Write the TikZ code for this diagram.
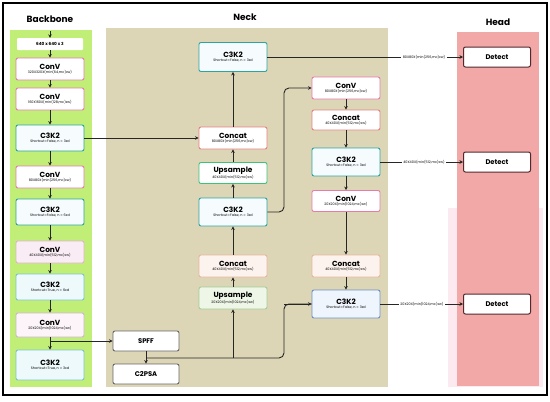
\documentclass[tikz,border=0pt]{standalone}
\usepackage{fontspec}
\setmainfont{Poppins}
\usetikzlibrary{arrows.meta}
\definecolor{bbgreen}{RGB}{192,238,118}
\definecolor{necktan}{RGB}{220,213,182}
\definecolor{headpink}{RGB}{241,168,166}
\definecolor{headlight}{RGB}{253,234,240}
\definecolor{convpink}{RGB}{232,124,168}
\definecolor{teal}{RGB}{42,165,160}
\definecolor{concatred}{RGB}{232,128,128}
\definecolor{upgreen}{RGB}{62,194,122}
\definecolor{peachfill}{RGB}{253,243,238}
\definecolor{peachdraw}{RGB}{232,182,156}
\definecolor{lgfill}{RGB}{238,246,232}
\definecolor{lgdraw}{RGB}{165,205,150}
\definecolor{lpfill}{RGB}{250,236,244}
\definecolor{lpdraw}{RGB}{226,180,206}
\definecolor{lbfill}{RGB}{238,249,251}
\definecolor{lbdraw}{RGB}{120,196,212}
\definecolor{bluedraw}{RGB}{108,143,200}
\definecolor{bluefill}{RGB}{238,245,252}
\definecolor{detdraw}{RGB}{80,40,46}
\newcommand{\bt}[2]{{\fontsize{7.4}{8}\selectfont\bfseries #1}\\[0.6pt]{\fontsize{3.4}{4}\selectfont #2}}
\tikzset{
  blk/.style={draw, rounded corners=2pt, line width=0.9pt, fill=white, minimum width=68pt, minimum height=22pt, inner sep=0pt, align=center, font=\fontsize{3.4}{4}\selectfont},
  conv/.style={blk, draw=convpink},
  c3/.style={blk, draw=teal, fill=lbfill!50},
  cat/.style={blk, draw=concatred},
  ups/.style={blk, draw=upgreen},
  plain/.style={draw=black!60, rounded corners=2pt, line width=0.9pt, fill=white, minimum width=66pt, minimum height=20pt, inner sep=0pt, font=\fontsize{6.8}{7}\selectfont\bfseries},
  det/.style={draw=detdraw, rounded corners=2pt, line width=1pt, fill=white, minimum width=67pt, minimum height=20pt, inner sep=0pt, font=\fontsize{6.8}{7}\selectfont\bfseries},
  arr/.style={-{Stealth[length=3.5pt,width=3.5pt]}, line width=0.9pt, draw=black!85},
  ln/.style={line width=0.9pt, draw=black!85},
  ttl/.style={font=\fontsize{9}{10}\selectfont\bfseries},
  lab/.style={fill=white, inner sep=1.5pt, font=\fontsize{3.4}{4}\selectfont}
}
\begin{document}
\begin{tikzpicture}[x=1pt,y=-1pt]
\useasboundingbox (0,0) rectangle (550,402);
\fill[white] (0,0) rectangle (550,402);
% panels
\fill[bbgreen] (10,30) rectangle (92,387);
\fill[necktan] (106,28) rectangle (388,387);
\fill[headlight] (448,208) rectangle (543,387);
\fill[headpink] (457,32) rectangle (539,386);
\draw[line width=1.5pt] (3,3) rectangle (547,395);
% titles
\node[ttl] (tb) at (50,19) {Backbone};
\node[ttl] (tn) at (245,17) {Neck};
\node[ttl] (th) at (498,22) {Head};
% backbone
\node[fill=white, rounded corners=1pt, minimum width=66pt, minimum height=12pt, inner sep=0pt, font=\fontsize{4.2}{5}\selectfont\bfseries] (in) at (50,44) {640 x 640 x 3};
\node[conv] (b1) at (50,69) {\bt{ConV}{320X320X(min(64,mc)xw)}};
\node[conv] (b2) at (50,99) {\bt{ConV}{160X160X(min(128,mc)xw)}};
\node[c3, minimum height=26pt] (b3) at (50,138) {\bt{C3K2}{Shortcut=False, n = 3xd}};
\node[conv] (b4) at (50,177) {\bt{ConV}{80X80X(min(256,mc)xw)}};
\node[c3, minimum height=26pt] (b5) at (50,212) {\bt{C3K2}{Shortcut=False, n = 6xd}};
\node[conv, draw=lpdraw, fill=lpfill] (b6) at (50,252) {\bt{ConV}{40X40X(min(512,mc)xw)}};
\node[c3, draw=lbdraw, fill=lbfill, minimum height=26pt] (b7) at (50,287) {\bt{C3K2}{Shortcut=True, n = 6xd}};
\node[conv, draw=lpdraw!80!lbdraw, fill=lpfill!60, minimum height=24pt] (b8) at (50,325) {\bt{ConV}{20X20X(min(1024,mc)xw)}};
\node[c3, draw=lbdraw, fill=lbfill, minimum height=30pt] (b9) at (50,365) {\bt{C3K2}{Shortcut=True, n = 3xd}};
\coordinate (top) at (50,31);
\draw[arr] (top) -- (in);
\draw[arr] (in) -- (b1);
\draw[arr] (b1) -- (b2);
\draw[arr] (b2) -- (b3);
\draw[arr] (b3) -- (b4);
\draw[arr] (b4) -- (b5);
\draw[arr] (b5) -- (b6);
\draw[arr] (b6) -- (b7);
\draw[arr] (b7) -- (b8);
\draw[arr] (b8) -- (b9);
% SPFF / C2PSA
\node[plain] (sp) at (146,341) {SPFF};
\node[plain] (c2) at (146,374) {C2PSA};
\coordinate (j1) at (50,341);
\draw[arr] (j1) -- (sp);
\draw[arr] (sp) -- (c2);
% neck col 1
\node[c3, minimum height=29pt] (n1) at (233,57) {\bt{C3K2}{Shortcut=False, n = 3xd}};
\node[cat] (n2) at (233,138) {\bt{Concat}{80X80X(min(256,mc)xw)}};
\node[ups, minimum height=21pt] (n3) at (233,173) {\bt{Upsample}{40X40X(min(512,mc)xw)}};
\node[c3, minimum height=28pt] (n4) at (233,212) {\bt{C3K2}{Shortcut=False, n = 3xd}};
\node[cat, draw=peachdraw, fill=peachfill] (n5) at (233,266) {\bt{Concat}{40X40X(min(512,mc)xw)}};
\node[ups, draw=lgdraw, fill=lgfill] (n6) at (233,298) {\bt{Upsample}{20X20X(min(1024,mc)xw)}};
% neck col 2
\node[conv] (m1) at (346,88) {\bt{ConV}{80X80X(min(256,mc)xw)}};
\node[cat, minimum height=20pt] (m2) at (346,120) {\bt{Concat}{40X40X(min(512,mc)xw)}};
\node[c3, minimum height=28pt] (m3) at (346,162) {\bt{C3K2}{Shortcut=False, n = 3xd}};
\node[conv, minimum height=21pt] (m4) at (346,201) {\bt{ConV}{20X20X(min(1024,mc)xw)}};
\node[cat, draw=peachdraw, fill=peachfill] (m5) at (346,266) {\bt{Concat}{40X40X(min(512,mc)xw)}};
\node[c3, draw=bluedraw, fill=bluefill, minimum height=28pt] (m6) at (346,304) {\bt{C3K2}{Shortcut=False, n = 3xd}};
% head
\node[det] (d1) at (497,57) {Detect};
\node[det] (d2) at (497,162) {Detect};
\node[det] (d3) at (497,304) {Detect};
% neck connections
\draw[arr] (b3) -- (n2);
\draw[arr] (n6) -- (n5);
\draw[arr] (n5) -- (n4);
\draw[arr] (n4) -- (n3);
\draw[arr] (n3) -- (n2);
\draw[arr] (n2) -- (n1);
\draw[arr] (m1) -- (m2);
\draw[arr] (m2) -- (m3);
\draw[arr] (m3) -- (m4);
\draw[arr] (m4) -- (m5);
\draw[arr] (m5) -- (m6);
\draw[arr, rounded corners=5pt] (n4.east) -- (284,212) -- (284,88) -- (m1.west);
\coordinate (j2) at (146,358);
\coordinate (j3) at (233,358);
\draw[ln, rounded corners=5pt] (j2) -- (284,358) -- (284,304) -- (m6.west);
\draw[arr] (284,304) -- (m6.west);
\draw[arr] (j3) -- (n6);
% to head
\draw[arr] (n1) -- (d1);
\draw[arr] (m3) -- (d2);
\draw[arr] (m6) -- (d3);
\node[lab] (l1) at (424,57) {80X80X(min(256,mc)xw)};
\node[lab] (l2) at (424,162) {40X40X(min(512,mc)xw)};
\node[lab] (l3) at (422,304) {20X20X(min(1024,mc)xw)};
\end{tikzpicture}
\end{document}
